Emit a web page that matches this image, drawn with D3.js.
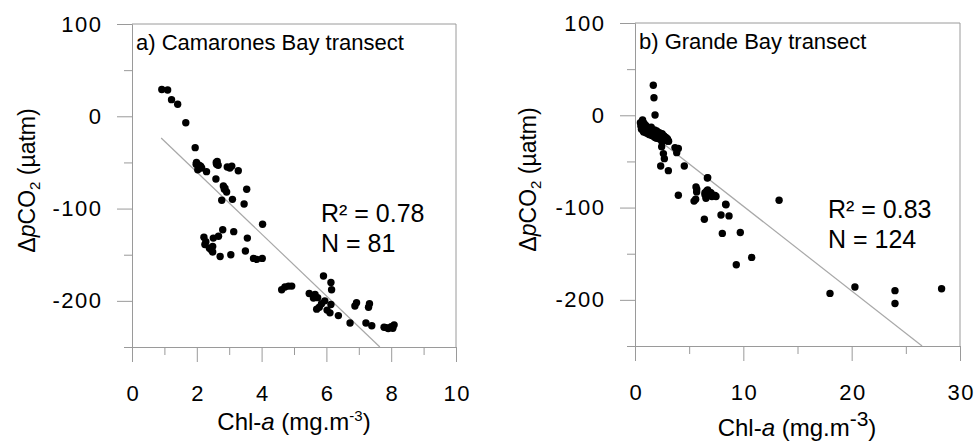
<!DOCTYPE html>
<html><head><meta charset="utf-8">
<script src="https://cdn.jsdelivr.net/npm/d3@7"></script>
<style>
html,body{margin:0;padding:0;background:#fff;}
svg text{font-family:Arial,"Liberation Sans",sans-serif;fill:#000;}
</style></head>
<body><svg id="c" width="976" height="441"></svg>
<script>
// ---------- data ----------
const panelTitles = ["a) Camarones Bay transect", "b) Grande Bay transect"];
const statsA = ["R² = 0.78", "N = 81"];
const statsB = ["R² = 0.83", "N = 124"];
const yTicks = [100, 0, -100, -200];
const yMinor = [50, -50, -150, -250];
const xTicksA = [0, 2, 4, 6, 8, 10];
const xMinorA = [1, 3, 5, 7, 9];
const xTicksB = [0, 10, 20, 30];
const xMinorB = [5, 15, 25];

const chlA = [0.92,1.10,1.22,1.41,1.66,1.95,1.99,2.07,2.15,1.98,2.03,2.30,2.63,2.61,2.94,3.08,3.28,2.59,2.82,3.54,
  2.87,2.92,2.77,3.10,3.46,4.03,2.80,3.14,2.22,2.28,2.51,2.67,3.56,2.39,2.49,2.49,2.72,3.05,3.50,3.75,3.85,4.02,
  5.91,6.14,6.16,6.14,6.11,6.37,4.62,4.72,4.83,4.93,5.47,5.65,5.73,5.85,5.78,5.70,6.73,6.93,6.88,7.33,7.30,7.22,
  7.40,7.78,7.91,8.05,8.09,2.60,2.85,2.25,2.45,5.95,7.85,2.12,2.66,3.02,6.02,5.60,8.00];
const dpco2A = [29,28.5,18,13,-7,-34,-50,-53,-56,-52,-58,-60,-49,-52,-55,-54,-59,-68,-75.5,-79,
  -78,-82,-91,-90,-95,-117,-123,-125,-131,-136,-132,-130,-132,-143,-141,-147,-152,-150,-146,-154,-155,-154,
  -173,-180,-188,-204,-213,-216,-188,-185,-184,-184,-192,-193,-196.5,-203,-207,-209,-224,-202,-205.5,-203,-207,-224,
  -227,-228.6,-230,-229.7,-226,-50,-79,-139,-145,-200,-229,-54,-53,-56,-210,-197,-228];

const chlB = [1.69,1.75,1.85,0.77,0.62,0.77,1.08,1.38,1.69,2.0,2.15,2.46,2.77,3.02,1.85,2.31,2.46,2.62,2.71,2.37,
  3.08,3.69,3.85,4.55,6.71,5.63,5.69,6.46,6.71,7.0,7.23,7.39,6.46,4.0,5.45,5.6,8.37,13.3,6.68,6.62,6.93,7.48,
  8.40,7.94,8.68,6.40,8.06,9.72,10.77,9.35,18.0,20.3,24.0,24.0,28.3,
  0.5,0.55,0.6,0.7,0.7,0.75,0.8,0.85,0.9,0.95,1.0,1.05,1.1,1.2,1.2,1.3,1.35,1.4,1.5,1.55,1.6,1.7,1.75,1.8,1.9,
  1.95,2.0,2.05,2.1,2.2,2.25,2.3,2.4,2.45,2.5,2.6,2.7,2.8,2.9,3.0,3.1,0.65,0.9,1.15,1.45,1.65,2.15,2.55,2.85,
  0.58,0.68,0.88,1.25,1.6,2.35,2.65,2.95,1.0,1.3,1.8,2.2,0.8,1.1,1.5,1.9,2.5,3.05,6.8,7.1,5.7,6.55,2.5,4.0];
const dpco2B = [32.5,19,0.3,-8,-13,-17,-17,-19.5,-19.5,-17,-21.7,-22.4,-24,-26.7,-24,-26,-34,-41.5,-47,-55,
  -60,-35,-40.5,-55,-67.5,-77.6,-83,-84,-81,-84,-86.7,-87,-86,-86.7,-93,-91,-96.4,-92,-68,-82,-84,-88,
  -97,-108,-109,-112.7,-128,-127,-154,-162,-193,-186,-190,-204,-188,
  -8,-12,-15,-5,-10,-14,-18,-9,-12,-16,-19,-13,-17,-15,-20,-18,-21,-16,-19,-22,-17,-20,-23,-16,-19,
  -22,-25,-18,-21,-24,-19,-22,-25,-21,-23,-26,-23,-25,-27,-26,-28,-11,-15,-18,-20,-21,-20,-24,-24,
  -10,-13,-14,-16,-18,-23,-22,-25,-11,-14,-17,-20,-16,-15,-13,-21,-20,-28,-85,-88,-80,-90,-29,-36];

const fitAX = [0.9, 7.65], fitAY = [-23.5, -250];
const fitBX = [0.5, 26.5], fitBY = [-11.3, -250];

// ---------- drawing ----------
const svg = d3.select("#c");
const GRAY = "#9a9a9a";
const fmt = (d) => String(d);   // plain hyphen minus as in the original

function panel(o) {
  const g = svg.append("g");
  const x = d3.scaleLinear().domain(o.xDomain).range([o.left, o.right]);
  const y = d3.scaleLinear().domain([-250, 100]).range([o.bottom, o.top]);

  // frame (top + right)
  g.append("path").attr("d", `M${o.left},${o.top}H${o.right}V${o.bottom}`)
    .attr("fill", "none").attr("stroke", GRAY).attr("stroke-width", 1);

  // minor ticks
  g.append("g").attr("transform", `translate(0,${o.bottom})`)
    .call(d3.axisBottom(x).tickValues(o.xMinor).tickSize(8).tickFormat("").tickSizeOuter(0));
  g.append("g").attr("transform", `translate(${o.left},0)`)
    .call(d3.axisLeft(y).tickValues(yMinor).tickSize(8).tickFormat("").tickSizeOuter(0));
  // major
  const xa = g.append("g").attr("class", "xa").attr("transform", `translate(0,${o.bottom})`)
    .call(d3.axisBottom(x).tickValues(o.xTicks).tickFormat(fmt).tickSize(15).tickPadding(23).tickSizeOuter(0));
  const ya = g.append("g").attr("class", "ya").attr("transform", `translate(${o.left},0)`)
    .call(d3.axisLeft(y).tickValues(yTicks).tickFormat(fmt).tickSize(15).tickPadding(16).tickSizeOuter(0));
  g.selectAll(".domain, .tick line").attr("stroke", GRAY);
  g.selectAll(".tick text").attr("font-size", 22).attr("fill", "#000")
    .attr("font-family", "Arial, 'Liberation Sans', sans-serif");
  // slightly wider glyphs like the original
  xa.selectAll(".tick text").attr("letter-spacing", 1.5).attr("dx", 0.75);
  ya.selectAll(".tick text").attr("letter-spacing", 1.5).attr("dx", 1.5);

  // fit line
  g.append("line")
    .attr("x1", x(o.fitX[0])).attr("y1", y(o.fitY[0]))
    .attr("x2", x(o.fitX[1])).attr("y2", y(o.fitY[1]))
    .attr("stroke", "#a8a8a8").attr("stroke-width", 1.2);

  // points
  g.append("g").selectAll("circle").data(o.xs).join("circle")
    .attr("cx", (d) => x(d)).attr("cy", (d, i) => y(o.ys[i]))
    .attr("r", 3.7).attr("fill", "#000");

  // panel title
  g.append("text").attr("x", o.left + 4).attr("y", o.top + 26)
    .attr("font-size", 22).text(o.title);

  // stats
  o.stats.forEach((s, i) => {
    g.append("text").attr("x", o.statX).attr("y", o.statY + i * 30)
      .attr("font-size", 25).text(s);
  });

  // x title
  const xt = g.append("text").attr("x", o.xTitleX).attr("y", o.xTitleY)
    .attr("text-anchor", "middle").attr("font-size", 24);
  xt.append("tspan").text("Chl-");
  xt.append("tspan").attr("font-style", "italic").text("a");
  xt.append("tspan").text(" (mg.m");
  xt.append("tspan").attr("font-size", o.supSize).attr("dy", o.supDy).text("-3");
  xt.append("tspan").attr("dy", -o.supDy).text(")");

  // y title
  const yt = g.append("text")
    .attr("transform", `translate(${o.yTitleX},${(o.top + o.bottom) / 2 - 5}) rotate(-90)`)
    .attr("text-anchor", "middle").attr("font-size", 23);
  yt.append("tspan").text("Δ");
  yt.append("tspan").attr("font-style", "italic").text("p");
  yt.append("tspan").text("CO");
  yt.append("tspan").attr("font-size", 15).attr("dy", 5).text("2");
  yt.append("tspan").attr("dy", -5).text(" (µatm)");
}

panel({
  left: 132, right: 456, top: 24, bottom: 347,
  xDomain: [0, 10], xTicks: xTicksA, xMinor: xMinorA,
  xs: chlA, ys: dpco2A, fitX: fitAX, fitY: fitAY,
  title: panelTitles[0], stats: statsA, statX: 321, statY: 222,
  xTitleX: 294, xTitleY: 430, supSize: 15, supDy: -9, yTitleX: 35
});
panel({
  left: 635, right: 960, top: 23, bottom: 346,
  xDomain: [0, 30], xTicks: xTicksB, xMinor: xMinorB,
  xs: chlB, ys: dpco2B, fitX: fitBX, fitY: fitBY,
  title: panelTitles[1], stats: statsB, statX: 828, statY: 218,
  xTitleX: 797, xTitleY: 436, supSize: 21, supDy: -10, yTitleX: 536
});
</script></body></html>
